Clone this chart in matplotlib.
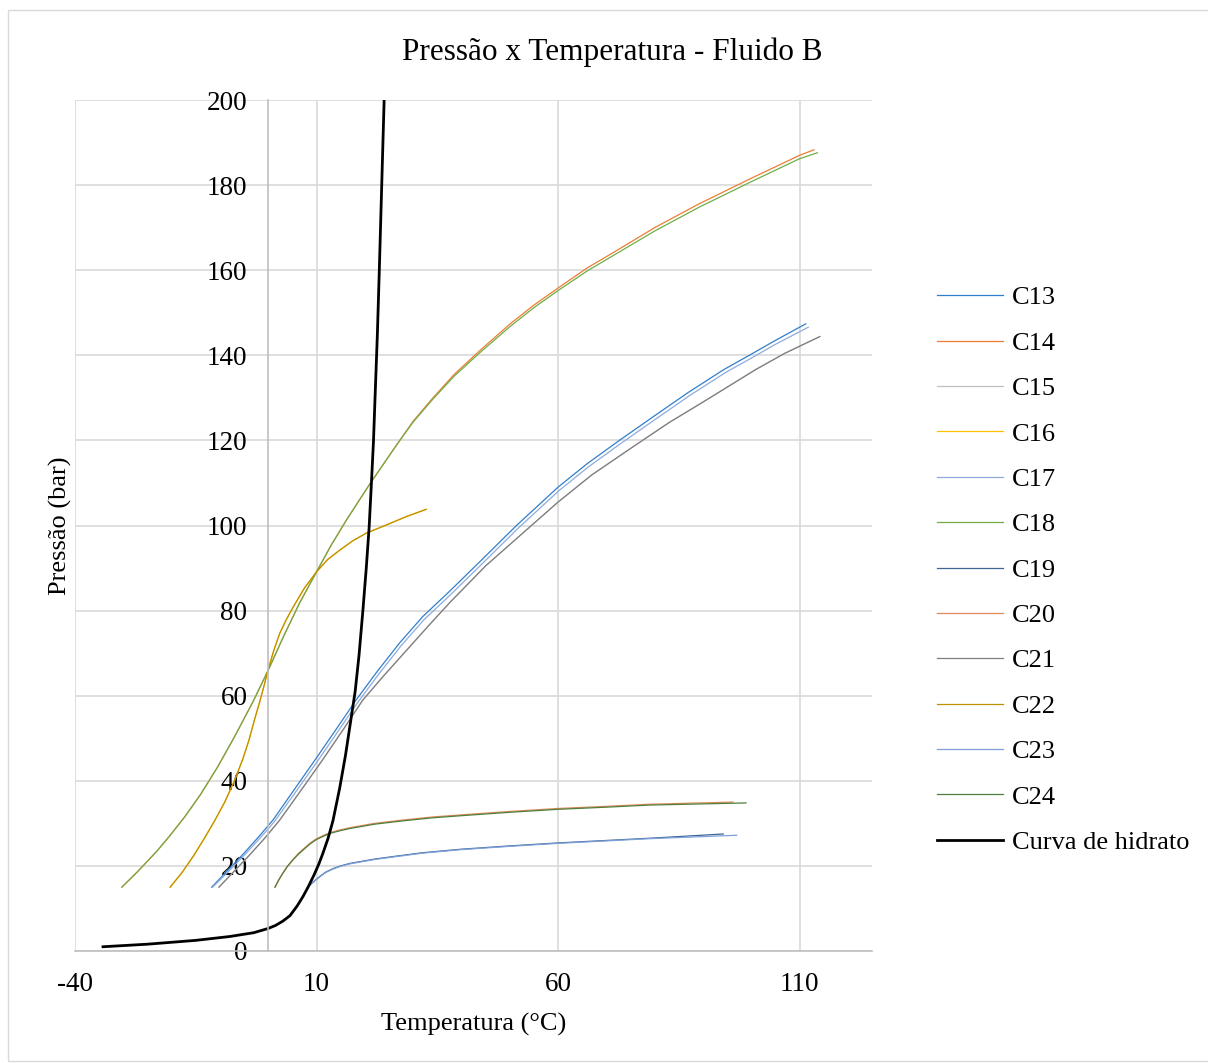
import numpy as np
import matplotlib
matplotlib.use("Agg")
import matplotlib.pyplot as plt
from matplotlib.patches import Rectangle

plt.rcParams['font.family'] = ['Liberation Serif', 'DejaVu Serif']
plt.rcParams['axes.unicode_minus'] = False

# ---- data (Temperatura °C, Pressão bar) ----
# upper curve (C14 / C18)
t_c14 = [-30.3, -27.0, -23.1, -20.5, -17.3, -14.0, -10.5, -7.0, -3.1, 0.0, 3.2, 6.5, 10.0, 13.0, 16.2,
         21.0, 26.5, 30.0, 34.1, 38.5, 43.7, 50.0, 55.0, 60.0, 66.0, 72.7, 80.0, 89.2, 100.0, 110.0, 113.0]
p_c14 = [15.0, 18.7, 23.4, 26.9, 31.5, 36.8, 43.2, 50.3, 58.7, 66.0, 74.0, 81.8, 89.1, 95.3, 101.3,
         109.7, 118.8, 124.5, 130.0, 135.5, 141.0, 147.3, 151.8, 155.8, 160.5, 165.0, 170.0, 175.6, 181.6, 187.0, 188.3]
t_c18 = [-30.3, -27.0, -23.1, -20.5, -17.3, -14.0, -10.5, -7.0, -3.1, 0.0, 3.2, 6.5, 10.0, 13.0, 16.2,
         21.0, 26.5, 30.0, 34.1, 38.5, 43.7, 50.0, 55.0, 60.0, 66.0, 72.7, 80.0, 89.2, 100.0, 110.0, 113.7]
p_c18 = [15.0, 18.7, 23.4, 26.9, 31.5, 36.8, 43.2, 50.3, 58.7, 66.0, 74.0, 81.8, 89.1, 95.3, 101.3,
         109.7, 118.8, 124.3, 129.7, 135.1, 140.5, 146.7, 151.2, 155.2, 159.8, 164.3, 169.2, 174.8, 180.8, 186.2, 187.6]

# curve ending near 104 bar (C16 / C22)
t_c16 = [-20.3, -17.8, -15.5, -13.2, -11.0, -9.0, -7.0, -5.3, -4.0, -2.8, -1.7, -0.8, 0.0, 1.2, 2.4,
         3.8, 5.2, 7.5, 10.0, 12.3, 14.8, 17.5, 20.3, 24.4, 28.6, 32.7]
p_c16 = [15.0, 18.5, 22.3, 26.5, 30.8, 35.0, 40.0, 45.0, 49.5, 54.5, 58.8, 62.6, 66.2, 70.8, 74.7,
         78.0, 80.9, 85.3, 89.1, 92.0, 94.2, 96.4, 98.2, 100.1, 102.1, 103.8]
t_c22 = t_c16
p_c22 = p_c16

# middle curves (C13, C17, C15, C21)
t_c13 = [-11.7, -8.5, -5.0, -2.0, 1.0, 5.0, 10.0, 14.0, 18.2, 22.5, 27.2, 32.0, 37.6, 44.0, 51.4,
         60.0, 66.0, 72.7, 80.0, 87.0, 94.4, 99.6, 105.0, 111.3]
p_c13 = [15.0, 18.8, 23.0, 26.8, 30.8, 37.3, 45.4, 52.0, 59.0, 65.6, 72.4, 78.6, 84.6, 91.7, 100.0,
         109.0, 114.5, 120.0, 125.8, 131.3, 136.7, 140.0, 143.5, 147.4]
t_c17 = [-11.5, -8.3, -4.8, -1.8, 1.2, 5.2, 10.2, 14.2, 18.4, 22.7, 27.4, 32.2, 37.8, 44.2, 51.6,
         60.2, 66.2, 72.9, 80.2, 87.2, 94.6, 99.8, 105.2, 111.8]
p_c17 = [15.0, 18.6, 22.7, 26.4, 30.3, 36.6, 44.6, 51.2, 58.2, 64.8, 71.6, 77.8, 83.8, 90.9, 99.2,
         108.2, 113.7, 119.2, 125.0, 130.5, 135.9, 139.2, 142.7, 146.6]
t_c21 = [-10.2, -7.0, -3.5, -0.5, 2.4, 6.5, 11.0, 15.5, 19.6, 24.0, 28.9, 33.0, 37.6, 45.0, 54.5,
         60.0, 67.0, 75.4, 83.0, 90.0, 95.0, 101.0, 107.0, 114.2]
p_c21 = [15.0, 18.8, 23.0, 26.8, 30.8, 37.3, 44.5, 52.0, 59.0, 64.8, 71.0, 76.2, 81.9, 90.5, 100.0,
         105.5, 111.9, 118.4, 124.2, 129.0, 132.5, 136.7, 140.5, 144.4]
t_c15 = t_c21
p_c15 = p_c21

# lower curves (C20 / C24)
t_c20 = [1.4, 2.2, 3.0, 4.0, 5.2, 6.3, 7.5, 8.7, 10.0, 11.5, 13.0, 15.0, 17.0, 19.0, 22.0, 25.0,
         28.0, 34.0, 40.0, 50.0, 60.0, 70.0, 79.0, 96.2]
p_c20 = [15.0, 16.8, 18.3, 20.0, 21.6, 23.0, 24.2, 25.4, 26.4, 27.2, 27.9, 28.5, 29.0, 29.4, 30.0, 30.4,
         30.8, 31.5, 32.0, 32.8, 33.5, 34.0, 34.5, 35.0]
t_c24 = [1.4, 2.2, 3.0, 4.0, 5.2, 6.3, 7.5, 8.7, 10.0, 11.5, 13.0, 15.0, 17.0, 19.0, 22.0, 25.0,
         28.0, 34.0, 40.0, 50.0, 60.0, 70.0, 79.0, 98.9]
p_c24 = [15.0, 16.7, 18.2, 19.9, 21.5, 22.8, 24.0, 25.2, 26.2, 27.0, 27.7, 28.3, 28.8, 29.2, 29.8, 30.2,
         30.6, 31.3, 31.8, 32.6, 33.3, 33.8, 34.3, 34.8]

# lowest curves (C19 / C23)
t_c19 = [8.2, 9.0, 10.0, 11.0, 12.0, 13.5, 15.0, 17.0, 19.0, 22.0, 25.9, 32.0, 39.7, 50.0, 60.0, 79.0, 94.2]
p_c19 = [15.0, 15.9, 16.9, 17.8, 18.6, 19.4, 20.0, 20.6, 21.0, 21.6, 22.2, 23.1, 23.9, 24.7, 25.4, 26.5, 27.5]
t_c23 = [8.2, 9.0, 10.0, 11.0, 12.0, 13.5, 15.0, 17.0, 19.0, 22.0, 25.9, 32.0, 39.7, 50.0, 60.0, 79.0, 97.0]
p_c23 = [15.0, 15.8, 16.8, 17.7, 18.5, 19.3, 19.9, 20.5, 20.9, 21.5, 22.1, 23.0, 23.8, 24.6, 25.3, 26.4, 27.2]

# hydrate curve
t_hid = [-34.2, -25.0, -15.0, -8.0, -3.0, 0.0, 1.5, 3.0, 4.5, 6.0, 7.2, 8.2, 9.5, 10.5, 11.3, 12.4, 13.4,
         14.8, 16.0, 17.0, 18.0, 18.8, 19.6, 20.3, 20.9, 21.4, 21.8, 22.1, 22.6, 23.0, 23.5, 24.0, 24.3]
p_hid = [1.0, 1.6, 2.5, 3.4, 4.3, 5.3, 6.0, 7.0, 8.3, 10.6, 12.8, 14.9, 17.9, 20.5, 22.9, 26.5, 30.6,
         38.3, 46.0, 53.5, 61.0, 69.5, 80.0, 90.0, 99.7, 110.7, 120.0, 129.5, 145.0, 160.0, 180.0, 200.0, 215.0]

series = [
    ('C13', t_c13, p_c13, '#2E7FCC'),
    ('C14', t_c14, p_c14, '#ED7D31'),
    ('C15', t_c15, p_c15, '#C0C0C0'),
    ('C16', t_c16, p_c16, '#FFC000'),
    ('C17', t_c17, p_c17, '#8FAADC'),
    ('C18', t_c18, p_c18, '#70AD47'),
    ('C19', t_c19, p_c19, '#3E6594'),
    ('C20', t_c20, p_c20, '#E08A5A'),
    ('C21', t_c21, p_c21, '#7F7F7F'),
    ('C22', t_c22, p_c22, '#BF9000'),
    ('C23', t_c23, p_c23, '#7EA0DA'),
    ('C24', t_c24, p_c24, '#4F7F3C'),
]

fig = plt.figure(figsize=(12.08, 10.63), dpi=100)
ax = fig.add_axes([75/1208, 1-951/1063, 797/1208, 851/1063])

for name, t, p, c in series:
    ax.plot(t, p, color=c, lw=0.9, label=name)
ax.plot(t_hid, p_hid, color='black', lw=2.0, label='Curva de hidrato')

ax.set_xlim(-40, 125)
ax.set_ylim(0, 200)
ax.set_xticks([-40, 10, 60, 110])
ax.set_yticks(np.arange(0, 201, 20))
ax.grid(True, color='#D9D9D9', lw=1.2)
ax.set_axisbelow(True)

for s in ['top', 'right']:
    ax.spines[s].set_visible(False)
ax.spines['left'].set_position(('data', 0))
ax.spines['left'].set_color('#BFBFBF')
ax.spines['left'].set_linewidth(1.2)
ax.spines['bottom'].set_color('#BFBFBF')
ax.spines['bottom'].set_linewidth(1.2)
ax.tick_params(axis='y', length=0, pad=15, labelsize=19.5)
ax.tick_params(axis='x', length=0, pad=15, labelsize=19.5)

ax.set_xlabel('Temperatura (°C)', fontsize=19, va='baseline')
ax.xaxis.set_label_coords(0.5, -0.0937)
ax.set_ylabel('Pressão (bar)', fontsize=19, va='baseline')
ax.yaxis.set_label_coords(-0.010, 0.5)

fig.text(612/1208, 1-60/1063, 'Pressão x Temperatura - Fluido B', fontsize=22.5,
         ha='center', va='baseline')

ax.legend(loc='center left', bbox_to_anchor=(937/1208, 1-570/1063),
          bbox_transform=fig.transFigure, frameon=False, fontsize=19,
          borderpad=0, borderaxespad=0, handlelength=2.5, handletextpad=0.34,
          labelspacing=0.83)

# chart area border
fig.patches.append(Rectangle((8/1208, 2/1063), 1.0, 1-12/1063, transform=fig.transFigure,
                             fill=False, edgecolor='#D9D9D9', lw=1.0))

fig.savefig('out.png', dpi=100)
